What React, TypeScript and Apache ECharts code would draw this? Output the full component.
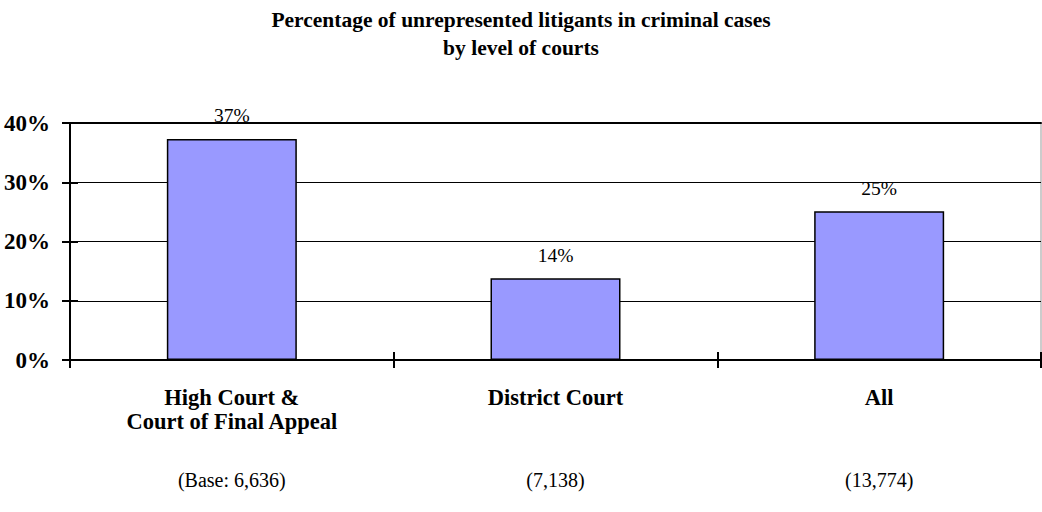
import React, { useEffect, useRef } from "react";
import * as echarts from "echarts";

const categories = ["High Court &\nCourt of Final Appeal", "District Court", "All"];
const bases = ["(Base: 6,636)", "(7,138)", "(13,774)"];
const values = [37.3, 13.8, 25.1];
const labels = ["37%", "14%", "25%"];

const FONT = "'Liberation Serif', 'Times New Roman', serif";

export default function App() {
  const ref = useRef<HTMLDivElement>(null);
  useEffect(() => {
    if (!ref.current) return;
    const chart = echarts.init(ref.current, undefined, { renderer: "svg" });
    chart.setOption({
      animation: false,
      backgroundColor: "#ffffff",
      title: {
        text: "Percentage of unrepresented litigants in criminal cases\nby level of courts",
        left: "center",
        top: 1,
        textStyle: {
          fontFamily: FONT,
          fontSize: 21.5,
          fontWeight: "bold",
          color: "#000",
          lineHeight: 28,
        },
      },
      grid: {
        left: 70,
        right: 1,
        top: 123,
        bottom: 152,
        show: true,
        borderColor: "#999",
        borderWidth: 1,
        backgroundColor: "transparent",
      },
      xAxis: [
        {
          type: "category",
          data: categories,
          position: "bottom",
          axisLine: { show: true, lineStyle: { color: "#000", width: 2 } },
          axisTick: { show: true, inside: false, length: 8, lineStyle: { color: "#000", width: 2 } },
          axisLabel: {
            margin: 26,
            fontFamily: FONT,
            fontSize: 22.5,
            fontWeight: "bold",
            color: "#000",
            lineHeight: 23.5,
          },
          splitLine: { show: false },
        },
        {
          type: "category",
          data: categories,
          position: "bottom",
          axisLine: { show: false },
          axisTick: { show: true, inside: true, length: 8, lineStyle: { color: "#000", width: 2 } },
          axisLabel: {
            margin: 110,
            fontFamily: FONT,
            fontSize: 20,
            color: "#000",
            formatter: (_v: string, i: number) => bases[i],
          },
          splitLine: { show: false },
        },
        {
          type: "category",
          data: categories,
          position: "top",
          axisLine: { show: true, lineStyle: { color: "#000", width: 2 } },
          axisTick: { show: false },
          axisLabel: { show: false },
          splitLine: { show: false },
        },
      ],
      yAxis: [
        {
          type: "value",
          min: 0,
          max: 40,
          interval: 10,
          position: "left",
          axisLine: { show: true, lineStyle: { color: "#000", width: 2 } },
          axisTick: { show: true, inside: false, length: 8, lineStyle: { color: "#000", width: 2 } },
          axisLabel: {
            margin: 20,
            formatter: "{value}%",
            fontFamily: FONT,
            fontSize: 23,
            fontWeight: "bold",
            color: "#000",
          },
          splitLine: { show: true, lineStyle: { color: "#000", width: 1 } },
        },
        {
          type: "value",
          min: 0,
          max: 40,
          interval: 10,
          position: "left",
          axisLine: { show: false },
          axisTick: { show: true, inside: true, length: 8, lineStyle: { color: "#000", width: 2 } },
          axisLabel: { show: false },
          splitLine: { show: false },
        },
      ],
      series: [
        {
          type: "bar",
          xAxisIndex: 0,
          yAxisIndex: 0,
          data: values,
          barWidth: 130,
          itemStyle: { color: "#9999FF", borderColor: "#000", borderWidth: 1.5 },
          label: {
            show: true,
            position: "top",
            distance: 13,
            fontFamily: FONT,
            fontSize: 19.5,
            color: "#000",
            formatter: (p: any) => labels[p.dataIndex],
          },
        },
      ],
    });
    return () => chart.dispose();
  }, []);
  return (
    <div
      ref={ref}
      style={{ position: "fixed", left: 0, top: 0, width: 1042, height: 512 }}
    />
  );
}
